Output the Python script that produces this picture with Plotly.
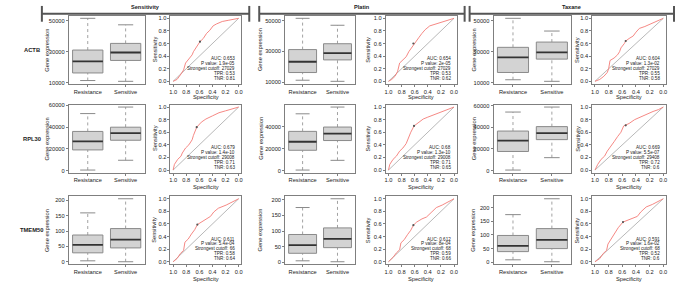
import plotly.graph_objects as go

W, H = 675, 285

genes = ["ACTB", "RPL30", "TMEM50"]
groups = ["Sensitivity", "Platin", "Taxane"]
box_cats = ["Resistance", "Sensitive"]

# Box statistics, indexed [group][category] (Resistance, Sensitive)
ACTB_lower = [[11300, 10800], [11300, 10600], [11900, 10900]]
ACTB_q1 = [[16200, 24300], [16300, 24500], [16600, 25200]]
ACTB_median = [[23700, 29400], [23300, 28900], [26300, 29600]]
ACTB_q3 = [[31000, 35300], [31200, 35000], [32800, 36200]]
ACTB_upper = [[51500, 47300], [51500, 47000], [51500, 43300]]

RPL30_lower = [[600, 9600], [600, 9400], [600, 12000]]
RPL30_q1 = [[19100, 28000], [18500, 27300], [17700, 28600]]
RPL30_median = [[26900, 34600], [26200, 33500], [27700, 34600]]
RPL30_q3 = [[36100, 40000], [35600, 39500], [36500, 40600]]
RPL30_upper = [[52500, 58500], [51500, 57600], [54000, 58600]]

TMEM50_lower = [[3, 0], [5, 2], [9, 2]]
TMEM50_q1 = [[29, 45], [29, 47], [39, 50]]
TMEM50_median = [[55, 72], [55, 75], [60, 82]]
TMEM50_q3 = [[87, 108], [89, 110], [98, 123]]
TMEM50_upper = [[159, 205], [175, 203], [174, 232]]

ACTB_ticks = [10000, 30000, 50000]
RPL30_ticks = [0, 20000, 40000, 60000]
TMEM50_ticks = [0, 50, 100, 150, 200]
roc_ticks = [1.0, 0.8, 0.6, 0.4, 0.2, 0.0]

# ROC curves (specificity, sensitivity), indexed [group]
ACTB_spec = [
    [1.0, 0.94, 0.89, 0.84, 0.81, 0.76, 0.71, 0.69, 0.64, 0.59, 0.54, 0.49, 0.44, 0.39, 0.34, 0.25, 0.15, 0.0],
    [1.0, 0.95, 0.90, 0.86, 0.83, 0.78, 0.73, 0.69, 0.64, 0.59, 0.54, 0.49, 0.44, 0.37, 0.28, 0.18, 0.10, 0.0],
    [1.0, 0.93, 0.87, 0.82, 0.80, 0.78, 0.72, 0.67, 0.64, 0.62, 0.57, 0.55, 0.50, 0.44, 0.40, 0.35, 0.27, 0.17, 0.07, 0.0],
]
ACTB_sens = [
    [0.0, 0.03, 0.10, 0.18, 0.29, 0.36, 0.42, 0.47, 0.55, 0.63, 0.68, 0.76, 0.81, 0.88, 0.91, 0.95, 0.97, 1.0],
    [0.0, 0.03, 0.08, 0.16, 0.29, 0.34, 0.39, 0.47, 0.55, 0.63, 0.69, 0.76, 0.82, 0.88, 0.91, 0.94, 0.97, 1.0],
    [0.0, 0.03, 0.08, 0.14, 0.20, 0.33, 0.37, 0.42, 0.47, 0.53, 0.60, 0.64, 0.68, 0.72, 0.78, 0.84, 0.87, 0.92, 0.96, 1.0],
]
RPL30_spec = [
    [1.0, 0.98, 0.93, 0.88, 0.86, 0.81, 0.76, 0.71, 0.69, 0.64, 0.57, 0.50, 0.40, 0.30, 0.20, 0.10, 0.0],
    [1.0, 0.98, 0.93, 0.88, 0.83, 0.78, 0.73, 0.69, 0.66, 0.61, 0.54, 0.47, 0.40, 0.30, 0.20, 0.10, 0.0],
    [1.0, 0.96, 0.91, 0.86, 0.82, 0.77, 0.72, 0.67, 0.62, 0.58, 0.50, 0.42, 0.34, 0.25, 0.15, 0.07, 0.0],
]
RPL30_sens = [
    [0.0, 0.09, 0.17, 0.22, 0.27, 0.35, 0.40, 0.48, 0.55, 0.68, 0.76, 0.81, 0.86, 0.91, 0.94, 0.97, 1.0],
    [0.0, 0.09, 0.17, 0.22, 0.30, 0.35, 0.42, 0.53, 0.60, 0.70, 0.76, 0.81, 0.84, 0.88, 0.92, 0.96, 1.0],
    [0.0, 0.09, 0.17, 0.22, 0.30, 0.37, 0.45, 0.53, 0.60, 0.70, 0.74, 0.80, 0.84, 0.88, 0.93, 0.96, 1.0],
]
TMEM50_spec = [
    [1.0, 0.94, 0.89, 0.84, 0.82, 0.77, 0.72, 0.67, 0.63, 0.58, 0.50, 0.43, 0.38, 0.31, 0.19, 0.10, 0.0],
    [1.0, 0.93, 0.88, 0.83, 0.81, 0.76, 0.71, 0.66, 0.62, 0.57, 0.49, 0.42, 0.35, 0.27, 0.18, 0.10, 0.0],
    [1.0, 0.93, 0.88, 0.83, 0.81, 0.76, 0.71, 0.66, 0.59, 0.52, 0.45, 0.38, 0.33, 0.25, 0.16, 0.09, 0.0],
]
TMEM50_sens = [
    [0.0, 0.05, 0.13, 0.18, 0.31, 0.36, 0.44, 0.51, 0.59, 0.62, 0.67, 0.72, 0.79, 0.85, 0.90, 0.95, 1.0],
    [0.0, 0.07, 0.14, 0.19, 0.30, 0.35, 0.43, 0.50, 0.58, 0.63, 0.68, 0.71, 0.78, 0.86, 0.90, 0.95, 1.0],
    [0.0, 0.05, 0.13, 0.18, 0.28, 0.36, 0.44, 0.54, 0.63, 0.66, 0.69, 0.72, 0.79, 0.87, 0.91, 0.95, 1.0],
]

# Strongest-cutoff points on each ROC curve (specificity, sensitivity), indexed [group]
ACTB_best = [(0.59, 0.63), (0.62, 0.60), (0.55, 0.64)]
RPL30_best = [(0.64, 0.68), (0.61, 0.70), (0.55, 0.71)]
TMEM50_best = [(0.63, 0.59), (0.62, 0.58), (0.59, 0.63)]

# Statistics text, indexed [group]
ACTB_auc = ["0.653", "0.654", "0.604"]
ACTB_p = ["1.9e-05", "2e-05", "1.3e-02"]
ACTB_cut = ["27029", "27029", "27029"]
ACTB_tpr = ["0.53", "0.53", "0.55"]
ACTB_tnr = ["0.81", "0.62", "0.58"]
RPL30_auc = ["0.679", "0.68", "0.669"]
RPL30_p = ["1.4e-10", "1.3e-10", "5.5e-07"]
RPL30_cut = ["29008", "29008", "29408"]
RPL30_tpr = ["0.71", "0.71", "0.72"]
RPL30_tnr = ["0.63", "0.65", "0.6"]
TMEM50_auc = ["0.611", "0.612", "0.591"]
TMEM50_p = ["5.4e-04", "8e-04", "1.6e-02"]
TMEM50_cut = ["66", "68", "68"]
TMEM50_tpr = ["0.58", "0.59", "0.52"]
TMEM50_tnr = ["0.64", "0.66", "0.6"]

gene_data = {
    "ACTB": (ACTB_lower, ACTB_q1, ACTB_median, ACTB_q3, ACTB_upper, ACTB_ticks,
             ACTB_spec, ACTB_sens, ACTB_best, ACTB_auc, ACTB_p, ACTB_cut, ACTB_tpr, ACTB_tnr),
    "RPL30": (RPL30_lower, RPL30_q1, RPL30_median, RPL30_q3, RPL30_upper, RPL30_ticks,
              RPL30_spec, RPL30_sens, RPL30_best, RPL30_auc, RPL30_p, RPL30_cut, RPL30_tpr, RPL30_tnr),
    "TMEM50": (TMEM50_lower, TMEM50_q1, TMEM50_median, TMEM50_q3, TMEM50_upper, TMEM50_ticks,
               TMEM50_spec, TMEM50_sens, TMEM50_best, TMEM50_auc, TMEM50_p, TMEM50_cut, TMEM50_tpr, TMEM50_tnr),
}

# ---------------- layout geometry (pixels) ----------------
row_y = [(14, 83), (104, 173), (197, 266)]
box_x = [(68, 144), (285, 355), (494, 572)]
roc_x = [(170, 241), (386, 457), (593, 667)]
box_title_x = [46, 260, 474]
roc_title_x = [154, 368, 578]
spec_title_y = [96.5, 187.5, 280.5]
gene_label_x = 31
header_spans = [(41, 249), (259, 465), (470, 675)]
header_line_y = 12

FONT = "Liberation Sans, Arial, sans-serif"
TXT = "#222222"
FRAME = "#7f7f7f"
BOX_FILL = "#d3d3d3"
BOX_LINE = "#8a8a8a"
MED = "#333333"
ROC_COL = "#f47a76"
DIAG = "#a6a6a6"


def xp(px):
    return px / W


def yp(py):
    return 1 - py / H


fig = go.Figure()
layout = dict(
    width=W, height=H, margin=dict(l=0, r=0, t=0, b=0),
    paper_bgcolor="white", plot_bgcolor="white", showlegend=False,
    font=dict(family=FONT, size=6, color=TXT),
)
annotations = []
shapes = []


def axis_common():
    return dict(showline=True, mirror=True, linecolor=FRAME, linewidth=1,
                ticks="outside", ticklen=2, tickwidth=1, tickcolor=FRAME,
                showgrid=False, zeroline=False, fixedrange=True,
                tickfont=dict(family=FONT, size=5.7, color=TXT))


def label(text, x, y, size=5.7, angle=0):
    annotations.append(dict(
        text=text, x=xp(x), y=yp(y), xref="paper", yref="paper",
        xanchor="center", yanchor="middle", showarrow=False, textangle=angle,
        font=dict(family=FONT, size=size, color=TXT)))


for r, gene in enumerate(genes):
    (lo, q1, med, q3, up, yticks, spec, sens, best,
     auc, pv, cut, tpr, tnr) = gene_data[gene]
    y0, y1 = row_y[r]
    for g, grp in enumerate(groups):
        nb = r * 6 + g * 2 + 1
        nr = nb + 1
        xa_b, ya_b = f"x{nb}", f"y{nb}"
        xa_r, ya_r = f"x{nr}", f"y{nr}"

        # ---------- box plot ----------
        for c in range(2):
            p = c + 1
            fig.add_trace(go.Scatter(
                x=[p, p, None, p, p],
                y=[lo[g][c], q1[g][c], None, q3[g][c], up[g][c]],
                mode="lines", line=dict(color=BOX_LINE, width=0.8, dash="dot"),
                hoverinfo="skip", xaxis=xa_b, yaxis=ya_b))
            fig.add_trace(go.Scatter(
                x=[p - 0.4, p + 0.4, p + 0.4, p - 0.4, p - 0.4],
                y=[q1[g][c], q1[g][c], q3[g][c], q3[g][c], q1[g][c]],
                fill="toself", fillcolor=BOX_FILL, mode="lines",
                line=dict(color=BOX_LINE, width=1), hoverinfo="skip",
                xaxis=xa_b, yaxis=ya_b))
            fig.add_trace(go.Scatter(
                x=[p - 0.2, p + 0.2, None, p - 0.2, p + 0.2],
                y=[lo[g][c], lo[g][c], None, up[g][c], up[g][c]],
                mode="lines", line=dict(color=BOX_LINE, width=1),
                hoverinfo="skip", xaxis=xa_b, yaxis=ya_b))
            fig.add_trace(go.Scatter(
                x=[p - 0.4, p + 0.4], y=[med[g][c], med[g][c]],
                mode="lines", line=dict(color=MED, width=1.8),
                hoverinfo="skip", xaxis=xa_b, yaxis=ya_b))
        vmin = min(lo[g])
        vmax = max(up[g])
        pad = 0.04 * (vmax - vmin)
        ax_x = axis_common()
        ax_x.update(domain=[xp(box_x[g][0]), xp(box_x[g][1])], range=[0.5, 2.5],
                    tickvals=[1, 2], ticktext=box_cats, anchor=ya_b)
        ax_y = axis_common()
        ax_y.update(domain=[yp(y1), yp(y0)], range=[vmin - pad, vmax + pad],
                    tickvals=yticks, ticktext=[str(v) for v in yticks], anchor=xa_b)
        layout["xaxis" + ("" if nb == 1 else str(nb))] = ax_x
        layout["yaxis" + ("" if nb == 1 else str(nb))] = ax_y
        label("Gene expression", box_title_x[g], (y0 + y1) / 2, angle=-90)

        # ---------- ROC ----------
        fig.add_trace(go.Scatter(
            x=[1, 0], y=[0, 1], mode="lines", line=dict(color=DIAG, width=0.8),
            hoverinfo="skip", xaxis=xa_r, yaxis=ya_r))
        fig.add_trace(go.Scatter(
            x=spec[g], y=sens[g], mode="lines", line=dict(color=ROC_COL, width=0.9),
            hoverinfo="skip", xaxis=xa_r, yaxis=ya_r))
        fig.add_trace(go.Scatter(
            x=[best[g][0]], y=[best[g][1]], mode="markers",
            marker=dict(color="#555555", size=2.2), hoverinfo="skip",
            xaxis=xa_r, yaxis=ya_r))
        ax_x = axis_common()
        ax_x.update(domain=[xp(roc_x[g][0]), xp(roc_x[g][1])], range=[1.04, -0.04],
                    tickvals=roc_ticks, ticktext=[f"{v:.1f}" for v in roc_ticks], anchor=ya_r)
        ax_y = axis_common()
        ax_y.update(domain=[yp(y1), yp(y0)], range=[-0.04, 1.04],
                    tickvals=roc_ticks, ticktext=[f"{v:.1f}" for v in roc_ticks], anchor=xa_r)
        layout["xaxis" + str(nr)] = ax_x
        layout["yaxis" + str(nr)] = ax_y
        label("Sensitivity", roc_title_x[g], (y0 + y1) / 2, angle=-90)
        label("Specificity", (roc_x[g][0] + roc_x[g][1]) / 2, spec_title_y[r])
        lines = [f"AUC: {auc[g]}", f"P value: {pv[g]}",
                 f"Strongest cutoff: {cut[g]}", f"TPR: {tpr[g]}", f"TNR: {tnr[g]}"]
        for k, t in enumerate(lines):
            annotations.append(dict(
                text=t, x=0.02, y=0.36 - k * 0.078, xref=xa_r, yref=ya_r,
                xanchor="right", yanchor="middle", showarrow=False,
                font=dict(family=FONT, size=4.6, color=TXT)))

    label(f"<b>{gene}</b>", gene_label_x, (y0 + y1) / 2, size=5.8)

# ---------- column headers ----------
for g, grp in enumerate(groups):
    a, b = header_spans[g]
    shapes.append(dict(type="line", xref="paper", yref="paper",
                       x0=xp(a), x1=xp(b), y0=yp(header_line_y), y1=yp(header_line_y),
                       line=dict(color="#555555", width=2)))
    for e in (a, b):
        shapes.append(dict(type="line", xref="paper", yref="paper",
                           x0=xp(e), x1=xp(e), y0=yp(4), y1=yp(20),
                           line=dict(color="#555555", width=2)))
    label(f"<b>{grp}</b>", (a + b) / 2, 5.5, size=5.6)

layout["annotations"] = annotations
layout["shapes"] = shapes
fig.update_layout(**layout)
fig.write_html("out.html", config={"displayModeBar": False},
               post_script="document.body.style.margin='0';")
